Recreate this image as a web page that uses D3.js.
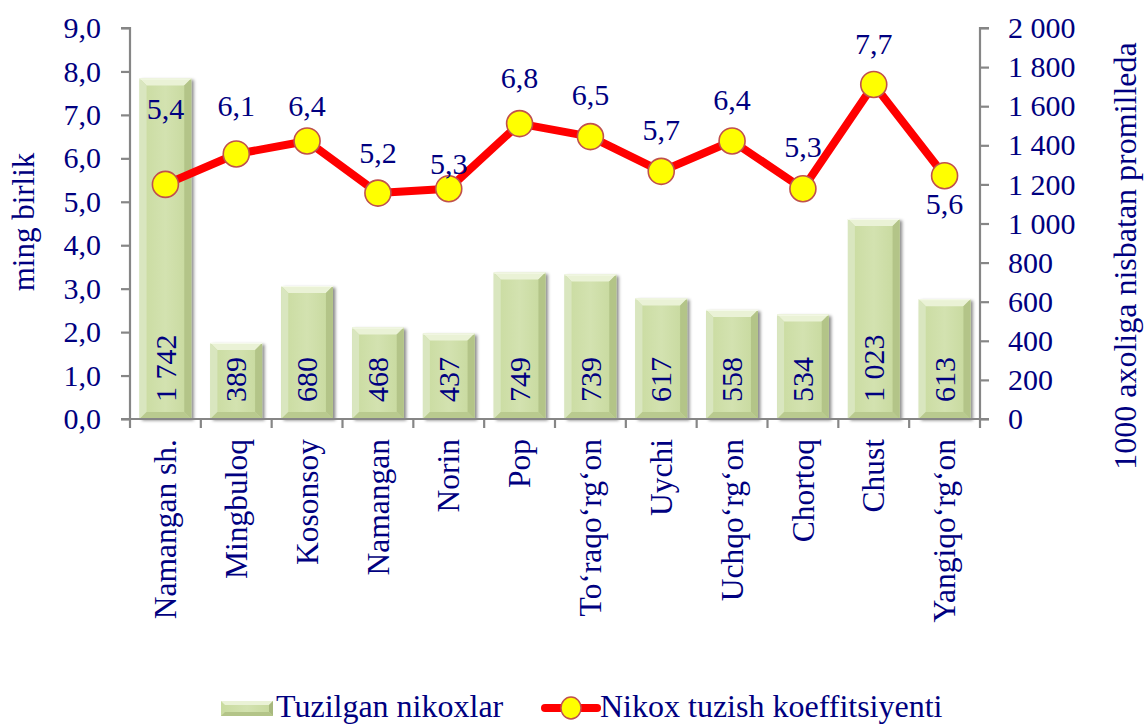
<!DOCTYPE html>
<html>
<head>
<meta charset="utf-8">
<script src="https://cdn.jsdelivr.net/npm/d3@7"></script>
</head>
<body style="margin:0;padding:0;background:#ffffff">
<script>
// ---- data ----
const categories = ["Namangan sh.", "Mingbuloq", "Kosonsoy", "Namangan", "Norin", "Pop",
  "To\u2018raqo\u2018rg\u2018on", "Uychi", "Uchqo\u2018rg\u2018on", "Chortoq", "Chust", "Yangiqo\u2018rg\u2018on"];
const marriages = [1742, 389, 680, 468, 437, 749, 739, 617, 558, 534, 1023, 613];
const coefficient = [5.4, 6.1, 6.4, 5.2, 5.3, 6.8, 6.5, 5.7, 6.4, 5.3, 7.7, 5.6];
const leftTicks = [0, 1, 2, 3, 4, 5, 6, 7, 8, 9];
const rightTicks = [0, 200, 400, 600, 800, 1000, 1200, 1400, 1600, 1800, 2000];
const seriesNames = ["Tuzilgan nikoxlar", "Nikox tuzish koeffitsiyenti"];
const leftTitle = "ming birlik";
const rightTitle = "1000 axoliga nisbatan promilleda";

// ---- layout (positions/styles) ----
const W = 1145, H = 726;
const plot = { left: 130, right: 980, top: 28, bottom: 419 };
const lineLabelDy = [-76, -48, -35, -40, -25, -46, -42, -42, -41, -42, -41, 28];
const navy = "#000080";
const axisColor = "#868686";
const FONT = "'Liberation Serif', 'Times New Roman', Tinos, serif";

const loc = d3.formatLocale({ decimal: ",", thousands: "\u00a0", grouping: [3], currency: ["", ""] });
const fmt1 = loc.format(".1f");
const fmtInt = loc.format(",d");

const svg = d3.select("body").append("svg").attr("width", W).attr("height", H).style("display", "block");
const defs = svg.append("defs");

function styleText(sel, size) {
  return sel.style("font-family", FONT).style("font-size", size + "px").style("fill", navy).attr("fill", navy);
}

const faceGrad = defs.append("linearGradient").attr("id", "face").attr("x1", 0).attr("x2", 1).attr("y1", 0).attr("y2", 0);
faceGrad.append("stop").attr("offset", "0%").attr("stop-color", "#c9db9f");
faceGrad.append("stop").attr("offset", "50%").attr("stop-color", "#d3e2b0");
faceGrad.append("stop").attr("offset", "100%").attr("stop-color", "#c6d89c");

const shadow = defs.append("filter").attr("id", "shadow").attr("x", "-20%").attr("y", "-20%").attr("width", "150%").attr("height", "150%");
shadow.append("feDropShadow").attr("dx", 2.5).attr("dy", 1.5).attr("stdDeviation", 1.8).attr("flood-color", "#000").attr("flood-opacity", 0.45);

const x = d3.scaleBand().domain(categories).range([plot.left, plot.right]).paddingInner(0.27).paddingOuter(0.135);
const xb = d3.scaleBand().domain(categories).range([plot.left, plot.right]);
const yL = d3.scaleLinear().domain([0, 9]).range([plot.bottom, plot.top]);
const yR = d3.scaleLinear().domain([0, 2000]).range([plot.bottom, plot.top]);

// ---- bars ----
const bevel = 7;
const barG = svg.append("g");
categories.forEach((c, i) => {
  const x0 = x(c), bw = x.bandwidth(), y0 = yR(marriages[i]), y1 = yR(0);
  const g = barG.append("g");
  g.append("rect").attr("x", x0).attr("y", y0).attr("width", bw).attr("height", y1 - y0)
    .attr("fill", "url(#face)").attr("filter", "url(#shadow)");
  const b = Math.min(bevel, (y1 - y0) / 2);
  g.append("path").attr("d", `M${x0},${y0}L${x0 + bw},${y0}L${x0 + bw - b},${y0 + b}L${x0 + b},${y0 + b}Z`).attr("fill", "#eaf2d6");
  g.append("path").attr("d", `M${x0},${y0}L${x0 + b},${y0 + b}L${x0 + b},${y1 - b}L${x0},${y1}Z`).attr("fill", "#d9e6bf");
  g.append("path").attr("d", `M${x0 + bw},${y0}L${x0 + bw},${y1}L${x0 + bw - b},${y1 - b}L${x0 + bw - b},${y0 + b}Z`).attr("fill", "#b3c488");
  g.append("path").attr("d", `M${x0},${y1}L${x0 + bw},${y1}L${x0 + bw - b},${y1 - b}L${x0 + b},${y1 - b}Z`).attr("fill", "#b9ca8f");
  g.append("line").attr("x1", x0).attr("x2", x0 + bw).attr("y1", y0 + 0.5).attr("y2", y0 + 0.5).attr("stroke", "#f6faec").attr("stroke-width", 1);
});

// ---- axes ----
const axL = svg.append("g").attr("transform", `translate(${plot.left},0)`)
  .call(d3.axisLeft(yL).tickValues(leftTicks).tickFormat(fmt1).tickSize(9).tickPadding(20));
const axR = svg.append("g").attr("transform", `translate(${plot.right},0)`)
  .call(d3.axisRight(yR).tickValues(rightTicks).tickFormat(fmtInt).tickSize(9).tickPadding(19));
[axL, axR].forEach(a => {
  a.attr("font-family", FONT);
  a.select(".domain").attr("stroke", axisColor).attr("stroke-width", 2.2);
  a.selectAll(".tick line").attr("stroke", axisColor).attr("stroke-width", 2.2);
  styleText(a.selectAll("text"), 30);
});
axL.select(".domain").attr("d", `M-9,${plot.top}H0V${plot.bottom}H-9`);
axR.select(".domain").attr("d", `M9,${plot.top}H0V${plot.bottom}H9`);

// x axis
const axX = svg.append("g");
axX.append("line").attr("x1", plot.left).attr("x2", plot.right).attr("y1", plot.bottom).attr("y2", plot.bottom)
  .attr("stroke", axisColor).attr("stroke-width", 2.2);
const bounds = categories.map(c => xb(c)).concat([plot.right]);
axX.selectAll("line.tk").data(bounds).enter().append("line").attr("class", "tk")
  .attr("x1", d => d).attr("x2", d => d).attr("y1", plot.bottom).attr("y2", plot.bottom + 9)
  .attr("stroke", axisColor).attr("stroke-width", 2.2);
styleText(axX.selectAll("text").data(categories).enter().append("text")
  .attr("transform", d => `translate(${xb(d) + xb.bandwidth() / 2},439) rotate(-90)`)
  .attr("text-anchor", "end").attr("dy", "0.34em").text(d => d), 31.5);

// ---- bar labels ----
styleText(svg.append("g").selectAll("text").data(categories).enter().append("text")
  .attr("transform", d => `translate(${x(d) + x.bandwidth() / 2},402) rotate(-90)`)
  .attr("text-anchor", "start").attr("dy", "0.34em")
  .text((d, i) => fmtInt(marriages[i])), 30);

// ---- line ----
const cx = c => xb(c) + xb.bandwidth() / 2;
const line = d3.line().x((d, i) => cx(categories[i])).y(d => yL(d));
svg.append("path").datum(coefficient).attr("d", line).attr("fill", "none")
  .attr("stroke", "#ff0000").attr("stroke-width", 8).attr("stroke-linejoin", "round");
svg.append("g").selectAll("circle").data(coefficient).enter().append("circle")
  .attr("cx", (d, i) => cx(categories[i])).attr("cy", d => yL(d)).attr("r", 13)
  .attr("fill", "#ffff00").attr("stroke", "#c0504d").attr("stroke-width", 1.6);
styleText(svg.append("g").selectAll("text").data(coefficient).enter().append("text")
  .attr("x", (d, i) => cx(categories[i])).attr("y", (d, i) => yL(d) + lineLabelDy[i])
  .attr("text-anchor", "middle").attr("dy", "0.34em").text(d => fmt1(d)), 30);

// ---- axis titles ----
styleText(svg.append("text").attr("transform", `translate(34,222) rotate(-90)`).attr("text-anchor", "middle")
  .text(leftTitle), 31);
styleText(svg.append("text").attr("transform", `translate(1136,256) rotate(-90)`).attr("text-anchor", "middle")
  .text(rightTitle), 32);

// ---- legend ----
const lg = svg.append("g");
const sw = { x: 221, y: 701, w: 52, h: 15 };
lg.append("rect").attr("x", sw.x).attr("y", sw.y).attr("width", sw.w).attr("height", sw.h).attr("fill", "url(#face)");
lg.append("path").attr("d", `M${sw.x},${sw.y}H${sw.x + sw.w}L${sw.x + sw.w - 4},${sw.y + 4}H${sw.x + 4}Z`).attr("fill", "#eaf2d6");
lg.append("path").attr("d", `M${sw.x + sw.w},${sw.y}V${sw.y + sw.h}L${sw.x + sw.w - 4},${sw.y + sw.h - 4}V${sw.y + 4}Z`).attr("fill", "#a8b97e");
lg.append("path").attr("d", `M${sw.x},${sw.y + sw.h}H${sw.x + sw.w}L${sw.x + sw.w - 4},${sw.y + sw.h - 4}H${sw.x + 4}Z`).attr("fill", "#b3c488");
styleText(lg.append("text").attr("x", 276).attr("y", 717).text(seriesNames[0]), 32);
lg.append("line").attr("x1", 545).attr("x2", 597).attr("y1", 708).attr("y2", 708)
  .attr("stroke", "#ff0000").attr("stroke-width", 8).attr("stroke-linecap", "round");
lg.append("ellipse").attr("cx", 571).attr("cy", 708).attr("rx", 10).attr("ry", 11)
  .attr("fill", "#ffff00").attr("stroke", "#c0504d").attr("stroke-width", 1.4);
styleText(lg.append("text").attr("x", 600).attr("y", 717).text(seriesNames[1]), 32);
</script>
</body>
</html>
